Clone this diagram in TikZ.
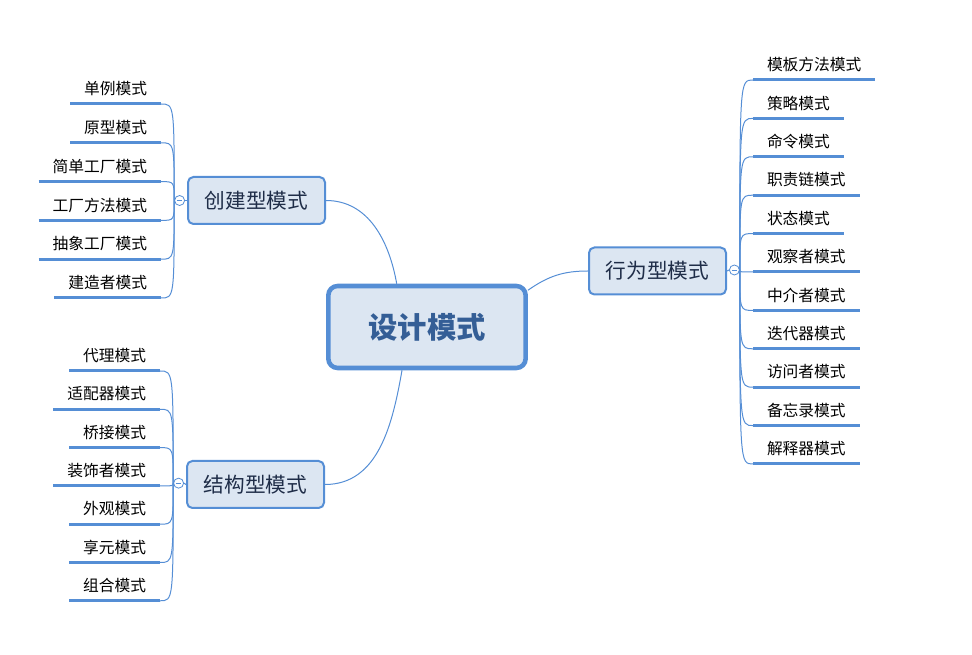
\documentclass[tikz,border=0pt]{standalone}
\usepackage{fontspec}
\setmainfont{Noto Sans CJK SC}
\usepackage{tikz}
\usetikzlibrary{positioning}
\definecolor{xblue}{RGB}{85,142,213}
\definecolor{xfill}{RGB}{220,230,242}
\definecolor{xtitle}{RGB}{52,94,150}
\definecolor{xtext}{RGB}{31,45,72}
\tikzstyle{line} = [draw, xblue, line width=0.75pt]
\tikzstyle{root_box} = [rectangle, draw=xblue, fill=xfill, line width=3.4pt, rounded corners=7pt, minimum width=148pt, minimum height=61.5pt, text=xtitle, font=\fontsize{22}{26}\selectfont\bfseries]
\tikzstyle{branch_box} = [rectangle, draw=xblue, fill=xfill, line width=1.5pt, rounded corners=4pt, minimum width=102.75pt, minimum height=35.25pt, text=xtext, font=\fontsize{15.5}{18}\selectfont]
\tikzstyle{fold} = [circle, draw=xblue, fill=white, line width=0.6pt, minimum size=7.5pt, inner sep=0pt]
\tikzstyle{leaf} = [rectangle, inner xsep=10.3pt, inner ysep=0pt, minimum height=22.5pt, text=black, font=\fontsize{11.8}{14}\selectfont]
\tikzstyle{leaf_line} = [draw, xblue, line width=2.25pt]
\begin{document}
\begin{tikzpicture}[x=0.75pt, y=-0.75pt]
			\useasboundingbox (0,0) rectangle (972,655);
			\node [root_box] (root) at (427,327) {设计模式};
			
			\node [branch_box] (create) at (256.5,200.5) {创建型模式};
			\node [branch_box] (struct) at (255.5,484.5) {结构型模式};
			\node [branch_box] (behave) at (657.5,271) {行为型模式};
			
			\node [fold, left=1.5pt of create] (create_f) {};
			\node [fold, left=1.5pt of struct, yshift=1pt] (struct_f) {};
			\node [fold, right=1.5pt of behave, yshift=0.75pt] (behave_f) {};
			
			\path [line] (root.125) to[out=100, in=0] (create.east);
			\path [line] (root.240) to[out=260, in=0] (struct.east);
			\path [line] (root.20) to[out=35, in=180] (behave.west);
			
			\path [line] (create_f.east) -- (create.west);
			\path [line] (struct_f.east) -- (struct.west);
			\path [line] (behave_f.west) -- (behave.east);
			\foreach \f in {create_f, struct_f, behave_f}
				\path [line, line width=0.6pt] ([xshift=2pt]\f.west) -- ([xshift=-2pt]\f.east);
			
			% creational
			\foreach \t [count=\i from 0] in {单例模式, 原型模式, 简单工厂模式, 工厂方法模式, 抽象工厂模式, 建造者模式} {
				\node [leaf, anchor=south east] (c\i) at (161, 104+38.8*\i) {\t};
				\path [leaf_line] (c\i.south west) -- (c\i.south east);
				\path [line] (c\i.south east) .. controls (create_f.west |- c\i.south east) .. (create_f.west);
			}
			
			% structural
			\foreach \t [count=\i from 0] in {代理模式, 适配器模式, 桥接模式, 装饰者模式, 外观模式, 享元模式, 组合模式} {
				\node [leaf, anchor=south east] (s\i) at (160, 371+38.3*\i) {\t};
				\path [leaf_line] (s\i.south west) -- (s\i.south east);
				\path [line] (s\i.south east) .. controls (struct_f.west |- s\i.south east) .. (struct_f.west);
			}
			
			% behavioral
			\foreach \t [count=\i from 0] in {模板方法模式, 策略模式, 命令模式, 职责链模式, 状态模式, 观察者模式, 中介者模式, 迭代器模式, 访问者模式, 备忘录模式, 解释器模式} {
				\node [leaf, anchor=south west] (b\i) at (753, 80+38.4*\i) {\t};
				\path [leaf_line] (b\i.south west) -- (b\i.south east);
				\path [line] (behave_f.east) .. controls (behave_f.east |- b\i.south west) .. (b\i.south west);
			}
		\end{tikzpicture}
\end{document}
